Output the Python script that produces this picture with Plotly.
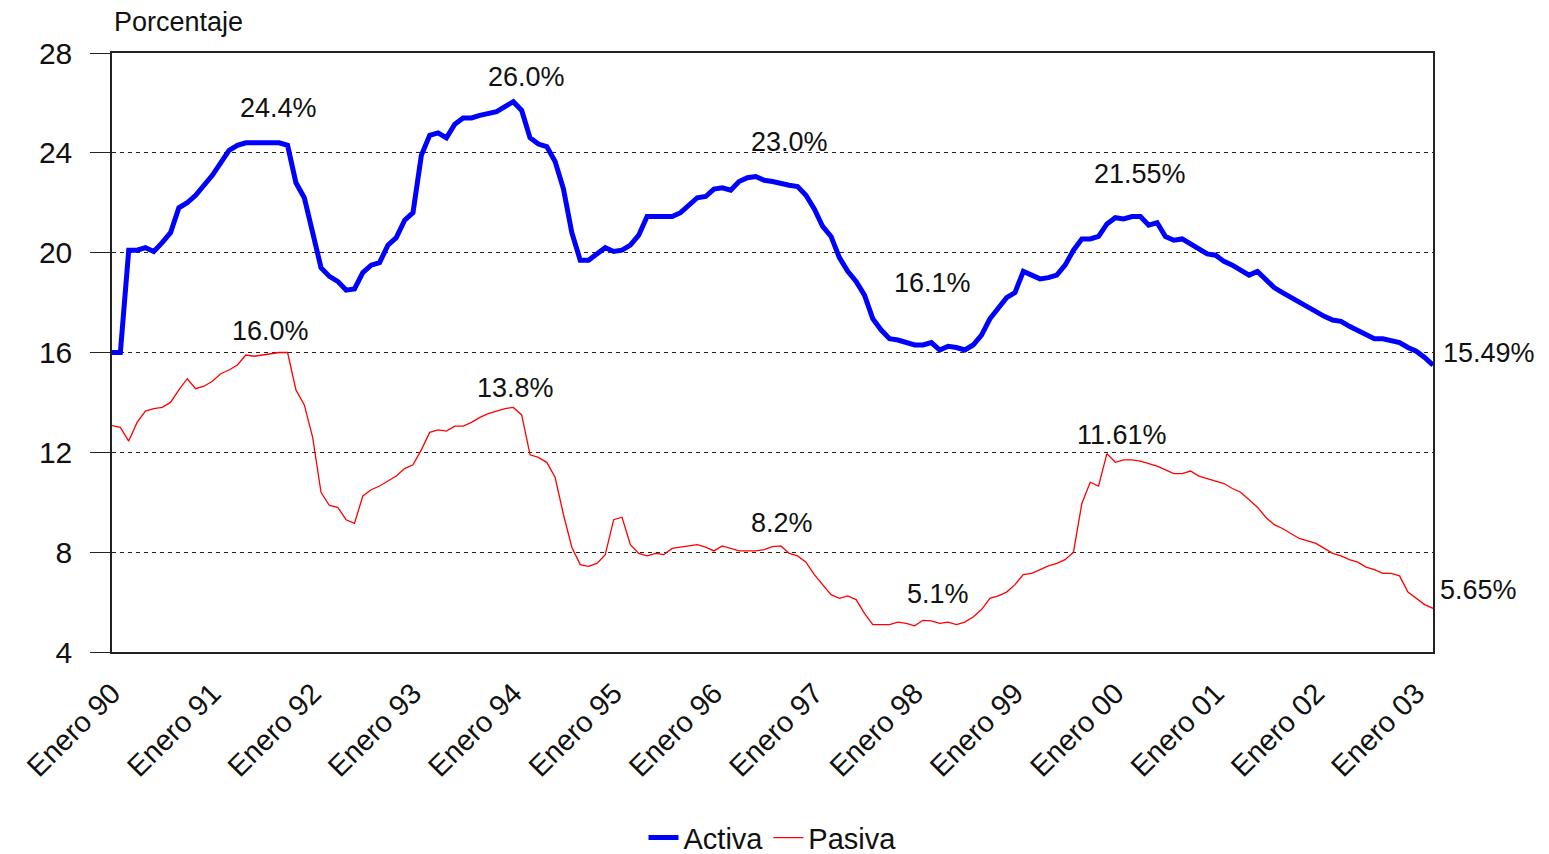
import plotly.graph_objects as go

# Monthly series, Jan 1990 .. Mar 2003 (159 months)
activa = [
    16.0, 16.0, 20.1, 20.1, 20.2, 20.05, 20.4, 20.8, 21.8, 22.0, 22.3, 22.7,          # 1990
    23.1, 23.6, 24.1, 24.3, 24.4, 24.4, 24.4, 24.4, 24.4, 24.3, 22.8, 22.2,           # 1991
    20.8, 19.4, 19.05, 18.85, 18.5, 18.55, 19.2, 19.5, 19.6, 20.3, 20.6, 21.3,        # 1992
    21.6, 23.9, 24.7, 24.8, 24.6, 25.15, 25.4, 25.4, 25.5, 25.6, 25.65, 25.85,        # 1993
    26.05, 25.7, 24.6, 24.35, 24.25, 23.65, 22.55, 20.8, 19.7, 19.7, 19.95, 20.2,     # 1994
    20.05, 20.1, 20.3, 20.7, 21.45, 21.45, 21.45, 21.45, 21.6, 21.9, 22.2, 22.25,     # 1995
    22.55, 22.6, 22.5, 22.85, 23.0, 23.05, 22.9, 22.85, 22.75, 22.7, 22.65, 22.3,     # 1996
    21.75, 21.05, 20.65, 19.8, 19.25, 18.85, 18.3, 17.35, 16.9, 16.55, 16.5, 16.4,    # 1997
    16.3, 16.3, 16.4, 16.1, 16.25, 16.2, 16.1, 16.3, 16.7, 17.35, 17.8, 18.2,         # 1998
    18.4, 19.25, 19.1, 18.95, 19.0, 19.1, 19.5, 20.1, 20.55, 20.55, 20.65, 21.15,     # 1999
    21.4, 21.35, 21.45, 21.45, 21.1, 21.2, 20.65, 20.5, 20.55, 20.35, 20.1, 19.95,    # 2000
    19.9, 19.65, 19.5, 19.3, 19.1, 19.25, 18.95, 18.6, 18.4, 18.2, 18.0, 17.8,        # 2001
    17.65, 17.45, 17.3, 17.25, 17.05, 16.9, 16.7, 16.55, 16.55, 16.5, 16.4, 16.2,     # 2002
    16.05, 15.8, 15.49,                                                               # 2003
]
pasiva = [
    13.07, 13.0, 12.45, 13.2, 13.65, 13.75, 13.8, 14.0, 14.5, 14.95, 14.55, 14.65,    # 1990
    14.85, 15.15, 15.3, 15.5, 15.9, 15.85, 15.9, 15.95, 16.0, 16.0, 14.5, 13.9,       # 1991
    12.6, 10.4, 9.87, 9.8, 9.3, 9.15, 10.25, 10.5, 10.65, 10.85, 11.05, 11.35,        # 1992
    11.5, 12.1, 12.8, 12.9, 12.85, 13.05, 13.05, 13.2, 13.4, 13.55, 13.65, 13.75,     # 1993
    13.8, 13.5, 11.9, 11.8, 11.6, 11.0, 9.5, 8.2, 7.5, 7.43, 7.55, 7.9,               # 1994
    9.3, 9.4, 8.3, 7.95, 7.85, 7.95, 7.9, 8.15, 8.2, 8.25, 8.3, 8.2,                  # 1995
    8.05, 8.25, 8.15, 8.05, 8.05, 8.05, 8.1, 8.22, 8.25, 7.95, 7.85, 7.6,             # 1996
    7.1, 6.7, 6.3, 6.15, 6.25, 6.1, 5.55, 5.1, 5.1, 5.1, 5.2, 5.15,                   # 1997
    5.05, 5.27, 5.25, 5.15, 5.2, 5.1, 5.2, 5.4, 5.7, 6.15, 6.25, 6.4,                 # 1998
    6.7, 7.1, 7.15, 7.3, 7.45, 7.55, 7.7, 8.0, 9.95, 10.8, 10.65, 11.95,              # 1999
    11.6, 11.7, 11.7, 11.65, 11.55, 11.45, 11.3, 11.15, 11.15, 11.25, 11.05, 10.95,   # 2000
    10.85, 10.75, 10.55, 10.4, 10.1, 9.8, 9.4, 9.1, 8.95, 8.75, 8.55, 8.45,           # 2001
    8.35, 8.15, 7.95, 7.85, 7.7, 7.6, 7.4, 7.3, 7.15, 7.15, 7.05, 6.4,                # 2002
    6.15, 5.9, 5.75,                                                                  # 2003
]
months = list(range(len(activa)))
tick_pos = list(range(0, len(activa), 12))
tick_text = ["Enero 90", "Enero 91", "Enero 92", "Enero 93", "Enero 94", "Enero 95",
             "Enero 96", "Enero 97", "Enero 98", "Enero 99", "Enero 00", "Enero 01",
             "Enero 02", "Enero 03"]

# data labels: (text, month index, value, xshift, yshift, xanchor)
labels_activa = [
    ("24.4%", 19.9, 24.4, 0, 35, "center"),
    ("26.0%", 49.6, 26.05, 0, 25, "center"),
    ("23.0%", 81.0, 23.05, 0, 35, "center"),
    ("16.1%", 98.1, 16.1, 0, 67, "center"),
    ("21.55%", 123.0, 21.45, 0, 42, "center"),
    ("15.49%", 158, 15.49, 8, 12, "left"),
]
labels_pasiva = [
    ("16.0%", 18.9, 16.0, 0, 22, "center"),
    ("13.8%", 48.3, 13.8, 0, 19, "center"),
    ("8.2%", 80.1, 8.25, 0, 23, "center"),
    ("5.1%", 98.8, 5.1, 0, 31, "center"),
    ("11.61%", 120.8, 11.61, 0, 27, "center"),
    ("5.65%", 158, 5.75, 5, 18, "left"),
]

FONT = "Arial, Liberation Sans, sans-serif"

fig = go.Figure()
fig.add_trace(go.Scatter(x=months, y=activa, mode="lines", name="Activa",
                         line=dict(color="#0000FF", width=5)))
fig.add_trace(go.Scatter(x=months, y=pasiva, mode="lines", name="Pasiva",
                         line=dict(color="#FF0000", width=1.3)))

for text, xm, yv, xs, ys, xa in labels_activa + labels_pasiva:
    fig.add_annotation(x=xm, y=yv, text=text, showarrow=False, xanchor=xa,
                       yanchor="middle", xshift=xs, yshift=ys,
                       font=dict(family=FONT, size=27, color="#111111"))

fig.add_annotation(x=0, y=1, xref="paper", yref="paper", text="Porcentaje",
                   showarrow=False, xanchor="left", yanchor="middle", yshift=31,
                   font=dict(family=FONT, size=27, color="#111111"))

fig.update_layout(
    width=1541, height=846,
    margin=dict(l=104, r=116, t=45, b=202, autoexpand=False),
    paper_bgcolor="white", plot_bgcolor="white",
    font=dict(family=FONT, color="#111111"),
    showlegend=True,
    legend=dict(orientation="h", x=0.5, xanchor="center", y=-0.31, yanchor="middle",
                font=dict(size=29), itemwidth=30, tracegroupgap=0),
)
fig.update_xaxes(range=[0, len(activa) - 1], tickmode="array", tickvals=tick_pos,
                 ticktext=tick_text, tickangle=-45, ticks="", showgrid=False,
                 showline=True, mirror=True, linecolor="#222222", linewidth=1.5,
                 tickfont=dict(size=29), ticklabelstandoff=11, zeroline=False,
                 automargin=False)
fig.update_yaxes(range=[4, 28], dtick=4, tick0=4, ticks="outside", ticklen=20,
                 tickcolor="#222222", tickwidth=1.2,
                 showgrid=True, gridcolor="#222222", gridwidth=1, griddash="4px,4px",
                 showline=True, mirror=True, linecolor="#222222", linewidth=1.5,
                 tickfont=dict(size=30), ticklabelstandoff=12, zeroline=False,
                 automargin=False)

fig.write_html("out.html")
